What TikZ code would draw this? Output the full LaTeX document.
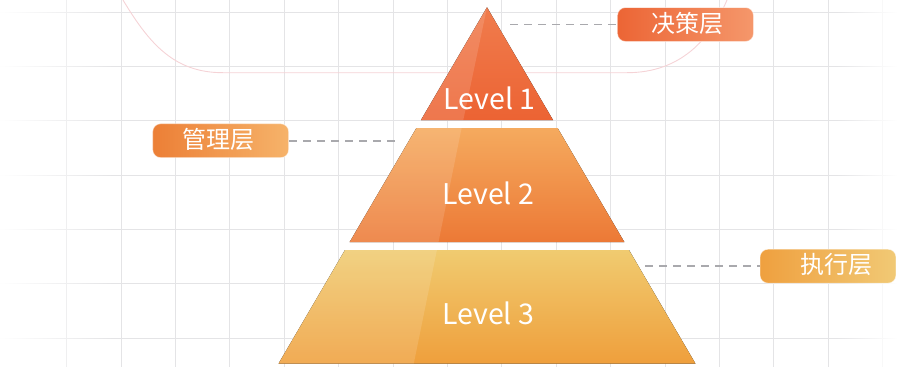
\documentclass[tikz,border=0pt]{standalone}
\usepackage{fontspec}
\setmainfont{Noto Sans CJK SC}
\usetikzlibrary{fadings}
\definecolor{gridc}{HTML}{E4E4E6}
\definecolor{arcc}{HTML}{F5D3D6}
\definecolor{dashc}{HTML}{A9A9AD}
\definecolor{aTop}{HTML}{F07C4D}
\definecolor{aBot}{HTML}{EC6333}
\definecolor{bTop}{HTML}{F5AA5E}
\definecolor{bBot}{HTML}{EC7936}
\definecolor{cTop}{HTML}{F0CB70}
\definecolor{cBot}{HTML}{EF9F3C}
\definecolor{kL}{HTML}{EC6535}
\definecolor{kR}{HTML}{F5976B}
\definecolor{mL}{HTML}{EC7F36}
\definecolor{mR}{HTML}{F6B36A}
\definecolor{eL}{HTML}{EFA03F}
\definecolor{eR}{HTML}{F1C975}
\tikzset{
  gridline/.style={draw=gridc, line width=1pt},
  hilite/.style={fill=white, fill opacity=0.13},
  leveltext/.style={text=white, font=\fontsize{28.5}{28.5}\selectfont, inner sep=0pt},
  tagbox/.style={rounded corners=8pt, minimum width=136pt, minimum height=34pt, inner sep=0pt, draw=white, draw opacity=0.55, line width=0.8pt},
  tagtext/.style={text=white, font=\fontsize{24}{24}\selectfont, inner sep=0pt},
  leader/.style={draw=dashc, line width=1.9pt, dash pattern=on 8pt off 6pt}
}
\begin{document}
\begin{tikzpicture}[x=1pt,y=-1pt]
\useasboundingbox (0,0) rectangle (897,367);
% grid
\foreach \k in {0,...,15} {\draw[gridline] (66.7+54.4*\k,0) -- (66.7+54.4*\k,367);}
\foreach \k in {0,...,6} {\draw[gridline] (0,12.3+54.3*\k) -- (897,12.3+54.3*\k);}
% edge fades
\fill[white, path fading=east] (0,0) rectangle (115,367);
\fill[white, path fading=west] (835,0) rectangle (897,367);
% faint arc
\draw[arcc, line width=0.9pt] (123,0) .. controls (150,45) and (175,72.7) .. (223,72.7) -- (627,72.7) .. controls (680,72.7) and (710,40) .. (727,0);
% Level 1
\coordinate (apex) at (487,7.3);
\fill[top color=aTop, bottom color=aBot] (421,120) -- (553,120) -- (apex) -- cycle;
\fill[hilite] (421,120) -- (463.3,120) -- (apex) -- cycle;
\node[leveltext] (l1) at (489.5,98) {Level 1};
% Level 2
\fill[top color=bTop, bottom color=bBot] (349.7,242) -- (624.3,242) -- (557.6,128) -- (416.4,128) -- cycle;
\fill[hilite] (349.7,242) -- (438.5,242) -- (461.6,128) -- (416.4,128) -- cycle;
\node[leveltext] (l2) at (488.3,193.5) {Level 2};
% Level 3
\fill[top color=cTop, bottom color=cBot] (278.6,363.5) -- (695.4,363.5) -- (629,250) -- (345,250) -- cycle;
\fill[hilite] (278.6,363.5) -- (413.8,363.5) -- (436.9,250) -- (345,250) -- cycle;
\node[leveltext] (l3) at (488.3,313) {Level 3};
% tag boxes
\node[tagbox, left color=kL, right color=kR] (t1) at (685.5,24.5) {};
\node[tagtext] (t1txt) at (687.5,23.5) {决策层};
\node[tagbox, left color=mL, right color=mR] (t2) at (220.7,140.7) {};
\node[tagtext] (t2txt) at (218,139.5) {管理层};
\node[tagbox, left color=eL, right color=eR] (t3) at (828,266.2) {};
\node[tagtext] (t3txt) at (836.2,264.5) {执行层};
% leaders
\coordinate (d1) at (510,24.5);
\coordinate (d2) at (396.7,140.7);
\coordinate (d3) at (645,266.2);
\draw[leader] (d1) -- (t1.west);
\draw[leader] (t2.east) -- (d2);
\draw[leader] (d3) -- (t3.west);
\end{tikzpicture}
\end{document}
